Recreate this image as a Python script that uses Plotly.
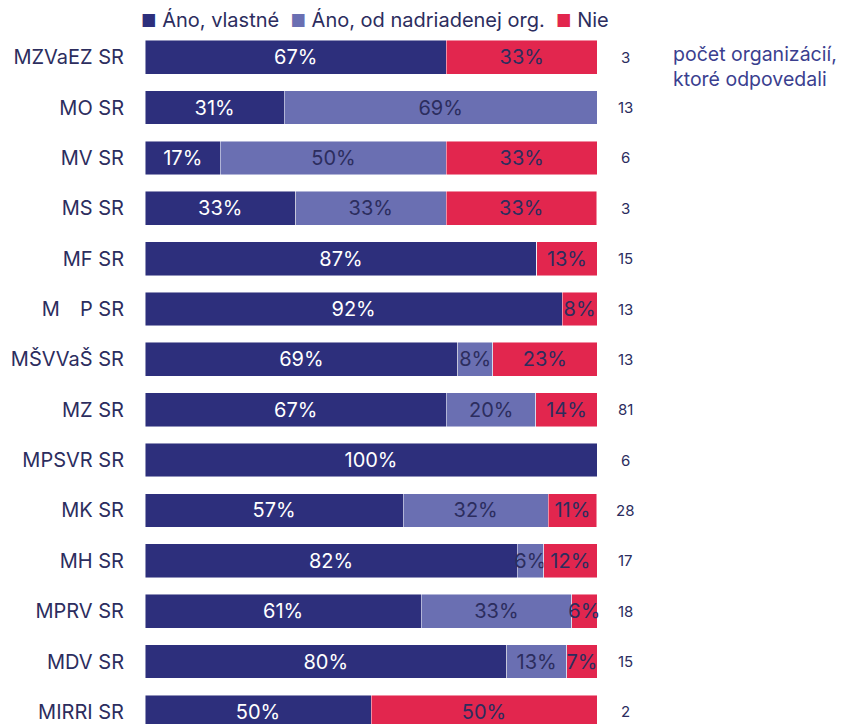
import plotly.graph_objects as go

categories = ["MZVaEZ SR", "MO SR", "MV SR", "MS SR", "MF SR", "M\u2003P SR", "MŠVVaŠ SR",
              "MZ SR", "MPSVR SR", "MK SR", "MH SR", "MPRV SR", "MDV SR", "MIRRI SR"]
ano_vlastne = [66.7, 30.8, 16.7, 33.3, 86.7, 92.3, 69.2, 66.7, 100.0, 57.1, 82.3, 61.1, 80.0, 50.0]
ano_nadriadena = [0.0, 69.2, 50.0, 33.3, 0.0, 0.0, 7.7, 19.8, 0.0, 32.1, 5.9, 33.3, 13.3, 0.0]
nie = [33.3, 0.0, 33.3, 33.3, 13.3, 7.7, 23.1, 13.5, 0.0, 10.7, 11.8, 5.6, 6.7, 50.0]
pocet = [3, 13, 6, 3, 15, 13, 13, 81, 6, 28, 17, 18, 15, 2]

series = [
    ("Áno, vlastné", ano_vlastne, "#2d2f7c", "#ffffff"),
    ("Áno, od nadriadenej org.", ano_nadriadena, "#6a6fb2", "#2c2d5e"),
    ("Nie", nie, "#e2264e", "#2c2d5e"),
]

FONT = "Inter"
fig = go.Figure()
for name, vals, color, tcolor in series:
    fig.add_trace(go.Bar(
        name=name, y=categories, x=vals, orientation="h",
        marker=dict(color=color, line=dict(width=0.8, color="rgba(255,255,255,0.6)")),
        text=[f"{round(v)}%" if v > 0 else "" for v in vals],
        textposition="inside", insidetextanchor="middle", textangle=0,
        textfont=dict(size=20, color=tcolor, family=FONT),
        constraintext="none", cliponaxis=False,
        hoverinfo="skip",
    ))

annotations = []
for cat, n in zip(categories, pocet):
    annotations.append(dict(x=1.062, y=cat, xref="paper", yref="y", text=str(n),
                            showarrow=False, xanchor="center", yanchor="middle",
                            font=dict(size=15, color="#2c2d5e", family=FONT)))
annotations.append(dict(x=1.164, y=0.18, xref="paper", yref="y",
                        text="počet organizácií,<br>ktoré odpovedali",
                        showarrow=False, xanchor="left", yanchor="middle", align="left",
                        font=dict(size=19.5, color="#3b3f8f", family=FONT)))
sq = '<span style="color:{c};font-size:17px">■</span>'
legend_text = (
    sq.format(c=series[0][2]) + " " + series[0][0] + "  "
    + sq.format(c=series[1][2]) + " " + series[1][0] + "  "
    + sq.format(c=series[2][2]) + " " + series[2][0]
)
annotations.append(dict(x=-0.014, y=1, xref="paper", yref="paper", yshift=-2,
                        text=legend_text, showarrow=False, xanchor="left", yanchor="bottom",
                        font=dict(size=20, color="#2c2d5e", family=FONT)))

fig.update_layout(
    barmode="stack", bargap=0.33,
    width=838, height=716,
    margin=dict(l=137, r=249, t=24, b=0),
    paper_bgcolor="white", plot_bgcolor="white",
    showlegend=False,
    uniformtext=dict(minsize=20, mode="show"),
    annotations=annotations,
    font=dict(family=FONT, color="#2c2d5e"),
)
fig.update_xaxes(range=[0, 100], visible=False)
fig.update_yaxes(categoryorder="array", categoryarray=categories,
                 range=[13.24, -0.5], showgrid=False, zeroline=False, showline=False,
                 ticks="", ticklabelstandoff=20,
                 tickfont=dict(size=20, color="#2c2d5e", family=FONT))

fig.write_html("out.html")
